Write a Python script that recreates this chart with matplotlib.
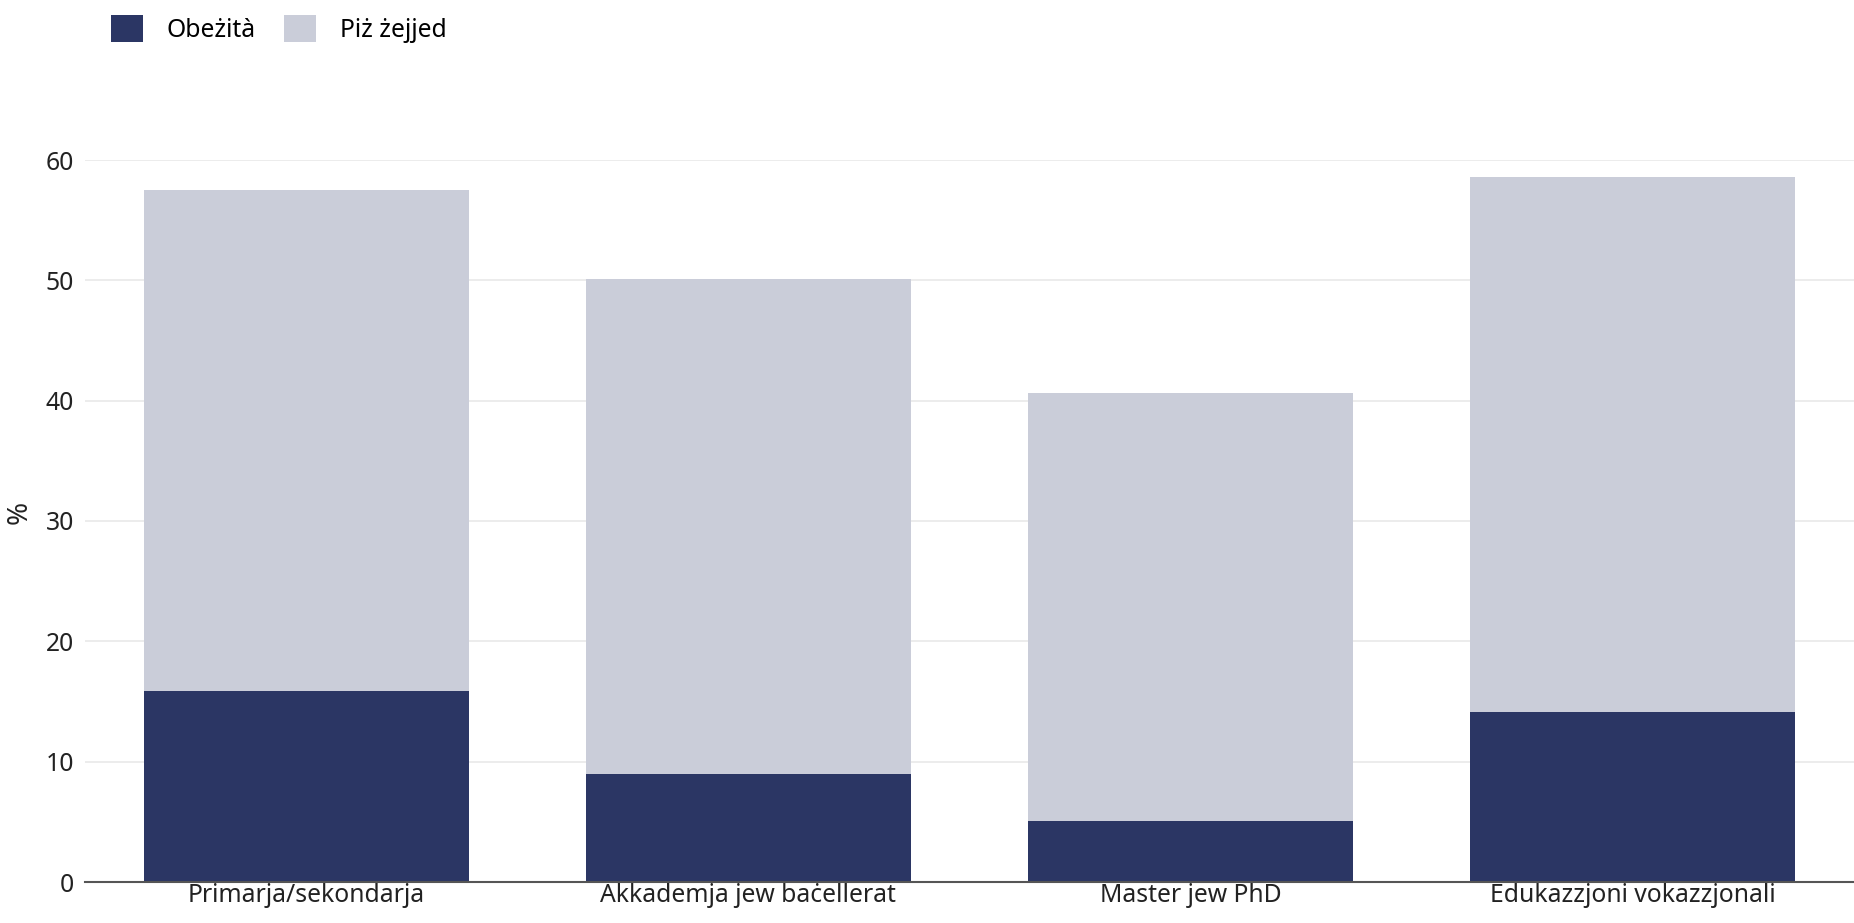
import matplotlib.pyplot as plt
import numpy as np

# data
categories = ["Primarja/sekondarja", "Akkademja jew baċellerat", "Master jew PhD", "Edukazzjoni vokazzjonali"]
obesity = [15.9, 9.0, 5.1, 14.1]
overweight_total = [57.5, 50.1, 40.6, 58.6]
overweight = [t - o for t, o in zip(overweight_total, obesity)]
yticks = [0, 10, 20, 30, 40, 50, 60]

dark = "#2b3664"
light = "#cacdd9"

plt.rcParams['font.family'] = ['Noto Sans', 'DejaVu Sans']

fig = plt.figure(figsize=(18.54, 9.23), dpi=100)
ax = fig.add_axes([85/1854, 41/923, 1 - 85/1854, (882-160)/923])

x = np.arange(len(categories))
w = 0.735
b1 = ax.bar(x, obesity, width=w, color=dark, label="Obeżità", zorder=3)
b2 = ax.bar(x, overweight, width=w, bottom=obesity, color=light, label="Piż żejjed", zorder=3)

ax.set_xlim(-0.5, 3.5)
ax.set_ylim(0, 60)
ax.set_yticks(yticks)
ax.set_xticks(x)
ax.set_xticklabels(categories, fontsize=17.8, color="#222222")
ax.tick_params(axis="y", labelsize=17.8, labelcolor="#222222", length=0, pad=8)
ax.tick_params(axis="x", length=0, pad=1)
ax.grid(axis="y", color="#ebebeb", linewidth=1.3, zorder=0)
ax.set_axisbelow(True)
for s in ["top", "right", "left"]:
    ax.spines[s].set_visible(False)
ax.spines["bottom"].set_color("#555555")
ax.spines["bottom"].set_linewidth(1.5)
ax.spines["bottom"].set_zorder(4)

fig.text(20/1854, 1 - 512/923, "%", rotation=90, fontsize=20, ha="center", va="center", color="#222222")

fig.legend(handles=[b1, b2], loc="upper left", bbox_to_anchor=(96/1854, 1.0), ncol=2, frameon=False,
           fontsize=17.8, handlelength=1.3, handleheight=1.3, columnspacing=1.15, handletextpad=0.95,
           borderaxespad=0.2)

fig.savefig("out.png", dpi=100, facecolor="white")
